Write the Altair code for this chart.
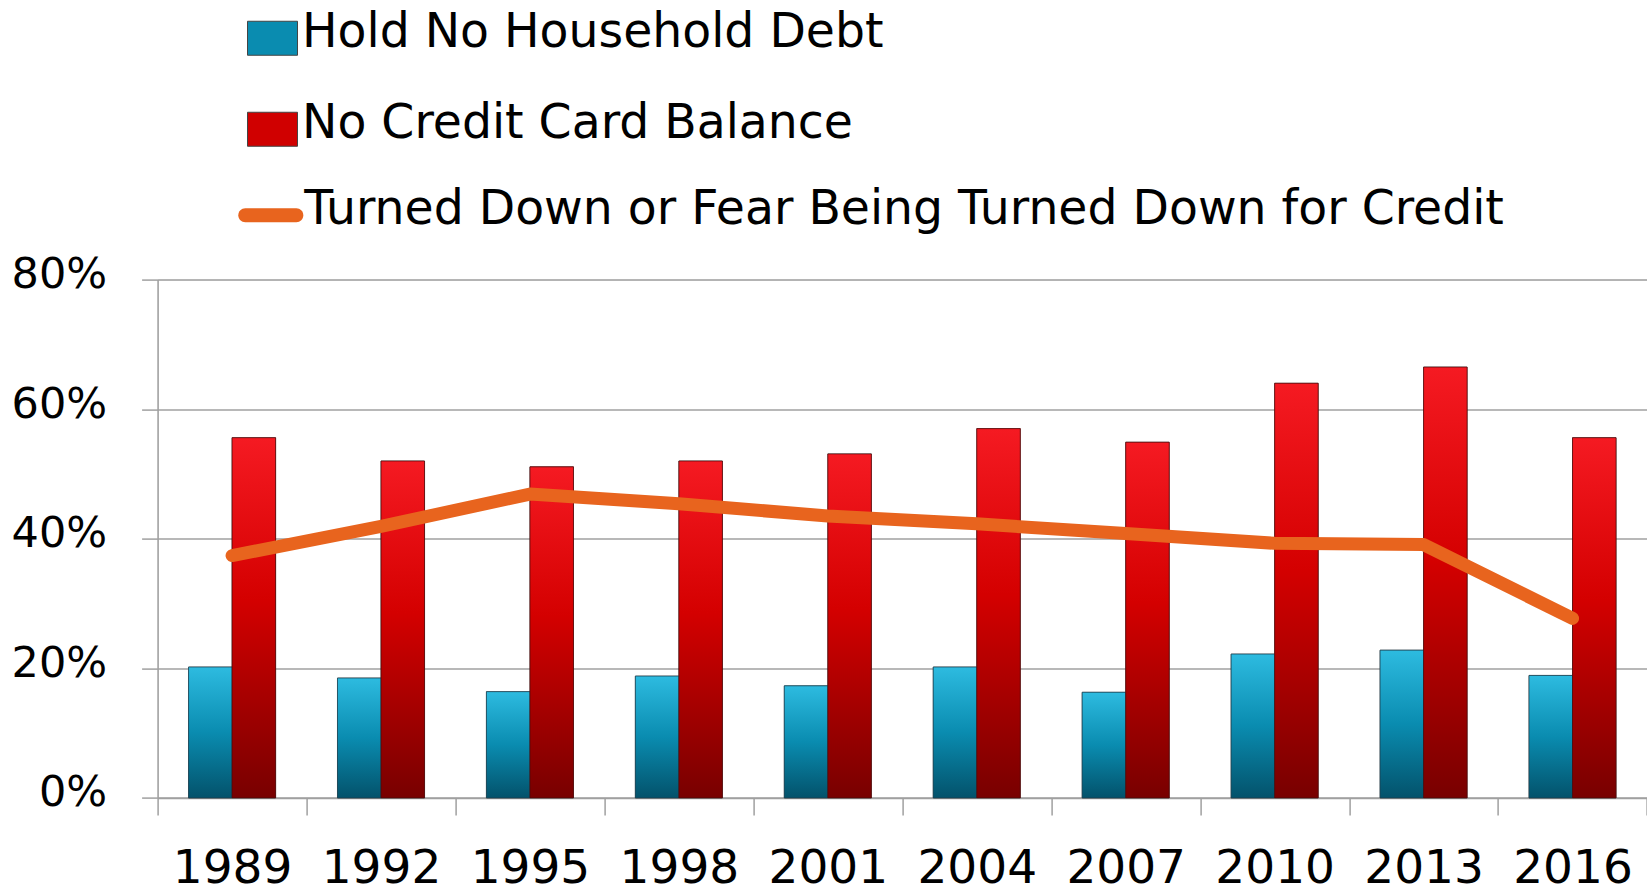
import altair as alt
import pandas as pd

years = ["1989", "1992", "1995", "1998", "2001", "2004", "2007", "2010", "2013", "2016"]
no_debt = [20.2, 18.5, 16.4, 18.8, 17.3, 20.2, 16.3, 22.2, 22.8, 18.9]
no_cc_balance = [55.6, 52.0, 51.1, 52.0, 53.1, 57.0, 54.9, 64.0, 66.5, 55.6]
turned_down = [37.4, 41.9, 46.9, 45.4, 43.5, 42.3, 40.8, 39.3, 39.1, 27.7]

S1 = "Hold No Household Debt"
S2 = "No Credit Card Balance"
S3 = "Turned Down or Fear Being Turned Down for Credit"

rows = []
for i, yr in enumerate(years):
    rows.append({"year": yr, "series": S1, "value": no_debt[i] / 100})
    rows.append({"year": yr, "series": S2, "value": no_cc_balance[i] / 100})
    rows.append({"year": yr, "series": S3, "value": turned_down[i] / 100})
df = pd.DataFrame(rows)

FONT = "DejaVu Sans"
GRID = "#a0a0a0"

x_enc = alt.X(
    "year:N", sort=years,
    scale=alt.Scale(paddingInner=0, paddingOuter=0),
    axis=alt.Axis(title=None, labelAngle=0, labelFontSize=47, labelFont=FONT,
                  labelColor="black", labelPadding=31, tickBand="extent",
                  tickSize=17, tickColor=GRID, tickWidth=1.5,
                  domainColor=GRID, domainWidth=1.5, grid=False),
)
y_enc = alt.Y(
    "value:Q",
    scale=alt.Scale(domain=[0, 0.8], nice=False),
    axis=alt.Axis(title=None, values=[0, 0.2, 0.4, 0.6, 0.8], format=".0%",
                  labelFontSize=43, labelFont=FONT, labelColor="black",
                  labelPadding=35, labelOffset=-5, tickSize=16, tickColor=GRID,
                  tickWidth=1.5, domainColor=GRID, domainWidth=1.5,
                  gridColor=GRID, gridWidth=1.5),
)
xoff = alt.XOffset("series:N",
                   scale=alt.Scale(domain=[S1, S2], paddingInner=0, paddingOuter=0.711))


def grad(stops):
    return alt.Gradient(gradient="linear", x1=0, x2=0, y1=0, y2=1,
                        stops=[alt.GradientStop(offset=o, color=c) for o, c in stops])


bar_symbol = "M-1,-0.45L1,-0.45L1,0.91L-1,0.91Z"
line_symbol = ("M-0.785,-0.045L0.785,-0.045A0.215,0.215 0 0 1 0.785,0.385"
               "L-0.785,0.385A0.215,0.215 0 0 1 -0.785,-0.045Z")

base_bars = alt.Chart(df).transform_filter(
    alt.FieldOneOfPredicate(field="series", oneOf=[S1, S2])
).mark_bar(stroke="#333333", strokeWidth=1, strokeOpacity=0.6).encode(
    x=x_enc, y=y_enc, xOffset=xoff,
    fill=alt.Fill("series:N", scale=alt.Scale(domain=[S1, S2], range=["#0A8CB0", "#D00000"]),
                  legend=alt.Legend(title=None, orient="none", legendX=89.4, legendY=-272.6,
                                    direction="vertical", padding=0,
                                    symbolType=bar_symbol, symbolSize=2500,
                                    symbolStrokeColor="#444444", symbolStrokeWidth=1,
                                    labelFontSize=47.3, labelFont=FONT, labelColor="black",
                                    labelLimit=2000, labelOffset=4, rowPadding=40)),
)

ov1 = alt.Chart(df).transform_filter(alt.datum.series == S1).mark_bar(
    fill=grad([(0, "#2DBBE0"), (0.5, "#0A8CB0"), (1, "#03526B")]),
    stroke="#1d3f4f", strokeWidth=1, strokeOpacity=0.7,
).encode(x=x_enc, y=y_enc, xOffset=xoff)

ov2 = alt.Chart(df).transform_filter(alt.datum.series == S2).mark_bar(
    fill=grad([(0, "#F51A22"), (0.45, "#D40000"), (1, "#780000")]),
    stroke="#4a0a0a", strokeWidth=1, strokeOpacity=0.7,
).encode(x=x_enc, y=y_enc, xOffset=xoff)

line = alt.Chart(df).transform_filter(alt.datum.series == S3).mark_line(
    strokeWidth=13, strokeCap="round", strokeJoin="round"
).encode(
    x=x_enc, y=y_enc,
    stroke=alt.Stroke("series:N", scale=alt.Scale(domain=[S3], range=["#E8641E"]),
                      legend=alt.Legend(title=None, orient="none", legendX=80.7, legendY=-102.4,
                                        padding=0, symbolType=line_symbol, symbolSize=4225,
                                        symbolFillColor="#E8641E", symbolStrokeWidth=0,
                                        labelFontSize=47.3, labelFont=FONT, labelColor="black",
                                        labelLimit=2000, labelOffset=1)),
)

chart = alt.layer(base_bars, ov1, ov2, line).properties(
    width=1489.4, height=518.3,
    padding={"left": 157.6, "top": 279.6, "right": 0, "bottom": 94.1},
    autosize=alt.AutoSizeParams(type="none"),
    background="white",
).configure_view(stroke=None).configure(font=FONT)

chart.save("out.html", embed_options={"renderer": "svg", "actions": False})
